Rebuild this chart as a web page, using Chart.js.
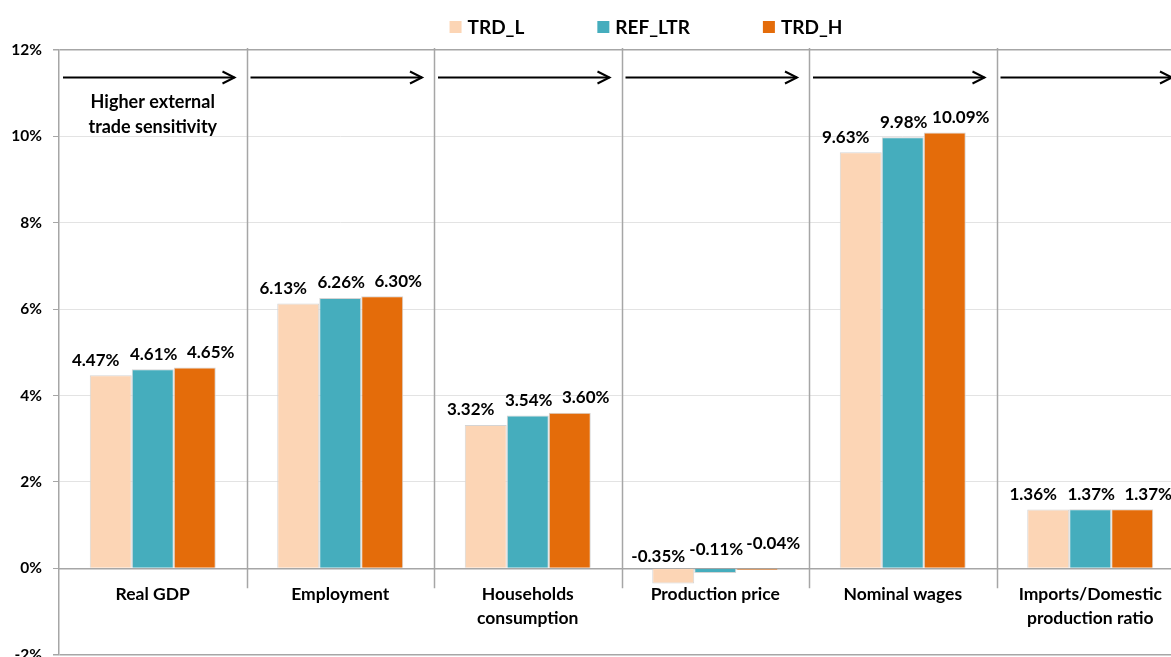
<!DOCTYPE html>
<html>
<head>
<meta charset="utf-8">
<script src="https://cdn.jsdelivr.net/npm/chart.js@4.4.1/dist/chart.umd.min.js"></script>
<style>
    html, body { margin: 0; padding: 0; background: #fff; overflow: hidden; }
    #wrap { width: 1280px; height: 657px; overflow: hidden; }
</style>
</head>
<body>
<div id="wrap"><canvas id="impactChart" width="1280" height="675"></canvas></div>
<script>
const categories = [
    'Real GDP',
    'Employment',
    ['Households', 'consumption'],
    'Production price',
    'Nominal wages',
    ['Imports/Domestic', 'production ratio']
];
const seriesNames = ['TRD_L', 'REF_LTR', 'TRD_H'];
const trdL = [4.47, 6.13, 3.32, -0.35, 9.63, 1.36];
const refLtr = [4.61, 6.26, 3.54, -0.11, 9.98, 1.37];
const trdH = [4.65, 6.30, 3.60, -0.04, 10.09, 1.37];
const yTicks = [-2, 0, 2, 4, 6, 8, 10, 12];
const noteLines = ['Higher external', 'trade sensitivity'];

const colors = ['#FCD5B5', '#45ADBD', '#E46C0A'];
const FONT = 'Lato, "Open Sans", sans-serif';
const GRID_DARK = '#a6a6a6';
const GRID_LIGHT = '#e3e3e3';

// vertical separators between the category groups
const separators = {
    id: 'separators',
    beforeDatasetsDraw(chart) {
        const { ctx, chartArea, scales: { x, y } } = chart;
        const zero = y.getPixelForValue(0);
        const half = (x.getPixelForValue(1) - x.getPixelForValue(0)) / 2;
        ctx.save();
        ctx.strokeStyle = GRID_DARK;
        ctx.lineWidth = 1.5;
        for (let i = 0; i < categories.length; i++) {
            const bx = Math.round(x.getPixelForValue(i) + half) + 0.5;
            ctx.beginPath();
            ctx.moveTo(bx, chartArea.top - 2);
            ctx.lineTo(bx, zero + 20);
            ctx.stroke();
        }
        ctx.restore();
    }
};

// arrows at the top of every group plus the note in the first one
const arrows = {
    id: 'arrows',
    afterDraw(chart) {
        const { ctx, scales: { x, y } } = chart;
        const half = (x.getPixelForValue(1) - x.getPixelForValue(0)) / 2;
        const ay = Math.round(y.getPixelForValue(11.37)) + 0.5;
        ctx.save();
        ctx.strokeStyle = '#000';
        ctx.lineWidth = 2;
        for (let i = 0; i < categories.length; i++) {
            const left = x.getPixelForValue(i) - half;
            const right = x.getPixelForValue(i) + half;
            const x0 = left + 4;
            const x1 = right - 12;
            ctx.beginPath();
            ctx.moveTo(x0, ay);
            ctx.lineTo(x1, ay);
            ctx.stroke();
            ctx.beginPath();
            ctx.moveTo(x1 - 12, ay - 6);
            ctx.lineTo(x1, ay);
            ctx.lineTo(x1 - 12, ay + 6);
            ctx.stroke();
        }
        ctx.fillStyle = '#000';
        ctx.font = 'bold 18px ' + FONT;
        ctx.textAlign = 'center';
        ctx.textBaseline = 'middle';
        const ny = y.getPixelForValue(10.8);
        noteLines.forEach((line, k) => {
            ctx.fillText(line, x.getPixelForValue(0), ny + k * 25);
        });
        ctx.restore();
    }
};

// value labels above the bars
const dataLabels = {
    id: 'dataLabels',
    afterDatasetsDraw(chart) {
        const { ctx, scales: { y } } = chart;
        const zero = y.getPixelForValue(0);
        const shift = [-15, 1, 16];
        ctx.save();
        ctx.fillStyle = '#000';
        ctx.font = 'bold 17px ' + FONT;
        ctx.textAlign = 'center';
        ctx.textBaseline = 'middle';
        chart.data.datasets.forEach((ds, di) => {
            chart.getDatasetMeta(di).data.forEach((bar, i) => {
                const v = ds.data[i];
                const ty = v >= 0 ? bar.y - 15 : zero - 12 - di * 6.5;
                ctx.fillText(v.toFixed(2) + '%', bar.x + shift[di], ty);
            });
        });
        ctx.restore();
    }
};

// legend drawn by hand so the wide gaps of the original can be kept
const topLegend = {
    id: 'topLegend',
    afterDraw(chart) {
        const { ctx, width } = chart;
        const box = 12, gap = 6, spacing = 73, ly = 27;
        ctx.save();
        ctx.font = 'bold 19px ' + FONT;
        const widths = chart.data.datasets.map(ds => box + gap + ctx.measureText(ds.label).width);
        const total = widths.reduce((a, b) => a + b, 0) + spacing * (widths.length - 1);
        let cx = width / 2 - total / 2 + 6;
        chart.data.datasets.forEach((ds, i) => {
            ctx.fillStyle = ds.backgroundColor;
            ctx.fillRect(cx, ly - box / 2, box, box);
            ctx.fillStyle = '#000';
            ctx.textAlign = 'left';
            ctx.textBaseline = 'middle';
            ctx.fillText(ds.label, cx + box + gap, ly + 1);
            cx += widths[i] + spacing;
        });
        ctx.restore();
    }
};

const ctx = document.getElementById('impactChart').getContext('2d');
new Chart(ctx, {
    type: 'bar',
    data: {
        labels: categories,
        datasets: [trdL, refLtr, trdH].map((values, i) => ({
            label: seriesNames[i],
            data: values,
            backgroundColor: colors[i],
            borderColor: '#d4d4d4',
            borderWidth: 1,
            categoryPercentage: 0.672,
            barPercentage: 1
        }))
    },
    options: {
        responsive: false,
        animation: false,
        devicePixelRatio: 1,
        layout: {
            padding: { top: 50, right: 96, bottom: 3, left: 0 }
        },
        plugins: {
            legend: { display: false },
            tooltip: { enabled: false }
        },
        scales: {
            x: {
                type: 'category',
                position: { y: 0 },
                offset: true,
                afterFit(scale) {
                    scale.height = 0;
                },
                grid: { drawOnChartArea: false, drawTicks: false },
                border: { color: GRID_DARK, width: 1.5 },
                ticks: {
                    color: '#000',
                    padding: 14,
                    maxRotation: 0,
                    autoSkip: false,
                    font: { family: FONT, size: 17.5, weight: 'bold', lineHeight: 1.37 }
                }
            },
            y: {
                min: yTicks[0],
                max: yTicks[yTicks.length - 1],
                afterBuildTicks(scale) {
                    scale.ticks = yTicks.map(v => ({ value: v }));
                },
                afterFit(scale) {
                    scale.width = 59;
                },
                grid: {
                    color: c => (c.tick && (c.tick.value === 12 || c.tick.value === -2)) ? GRID_DARK : GRID_LIGHT,
                    lineWidth: c => (c.tick && (c.tick.value === 12 || c.tick.value === -2)) ? 1.5 : 1,
                    tickLength: 6,
                    tickColor: GRID_DARK
                },
                border: { color: GRID_DARK, width: 1.5 },
                ticks: {
                    color: '#000',
                    padding: 11,
                    callback: v => v + '%',
                    font: { family: FONT, size: 15.5, weight: 'bold' }
                }
            }
        }
    },
    plugins: [separators, dataLabels, arrows, topLegend]
});
</script>
</body>
</html>
